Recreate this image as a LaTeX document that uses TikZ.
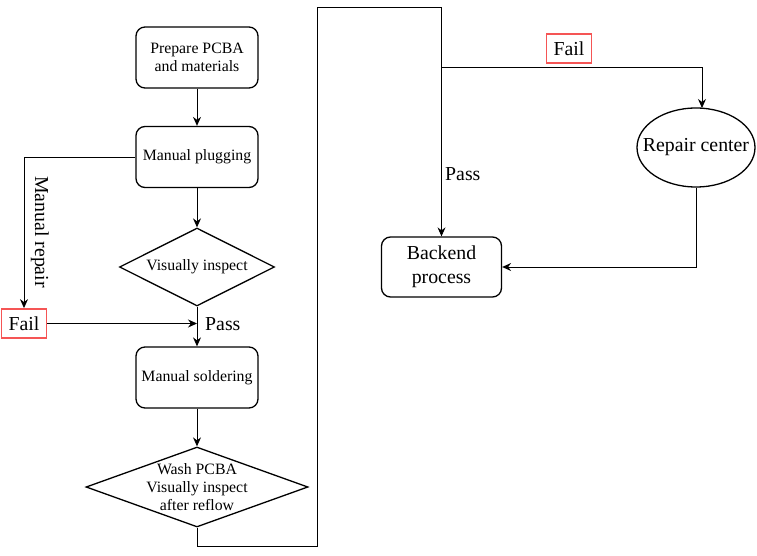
\documentclass[tikz,border=0pt]{standalone}
\usepackage{fontspec}
\setmainfont{Liberation Serif}
\usetikzlibrary{shapes.geometric,arrows.meta}
\definecolor{failred}{RGB}{245,85,85}
\tikzset{
  box/.style={draw, line width=1.3pt, rounded corners=9pt, minimum width=122pt, minimum height=61pt, inner sep=0pt, align=center, font=\fontsize{15.8}{17.5}\selectfont},
  bigbox/.style={box, minimum width=120pt, minimum height=60pt, font=\fontsize{19.8}{24}\selectfont},
  dia/.style={draw, line width=1.3pt, diamond, inner sep=0pt},
  smalltxt/.style={font=\fontsize{15.8}{18}\selectfont, align=center},
  bigtxt/.style={font=\fontsize{19.8}{22}\selectfont, inner sep=0pt},
  failbox/.style={draw=failred, line width=1.8pt, minimum width=45pt, minimum height=29pt, inner sep=0pt, font=\fontsize{19.8}{22}\selectfont},
  arr/.style={line width=0.9pt, -{Stealth[length=9pt,width=8pt,inset=3pt]}},
  ln/.style={line width=0.9pt}
}
\begin{document}
\begin{tikzpicture}[x=1pt,y=-1pt]
\useasboundingbox (0,0) rectangle (757,556);
% nodes
\node[box] (prep) at (197,57.5) {Prepare PCBA\\and materials};
\node[box] (plug) at (197,157) {Manual plugging};
\node[dia, minimum width=155pt, minimum height=78pt, label={[smalltxt]center:Visually inspect}] (vis) at (197,267) {};
\node[box] (sold) at (197,377.5) {Manual soldering};
\node[dia, minimum width=222pt, minimum height=80pt, label={[smalltxt]center:Wash PCBA\\Visually inspect\\after reflow}] (wash) at (197,487) {};
\node[failbox] (fail1) at (24,323.5) {Fail};
\node[bigtxt, rotate=-90] (mrep) at (40,232) {Manual repair};
\node[bigtxt, anchor=west] (pass1) at (205,324) {Pass};
\node[bigbox] (back) at (441.5,267) {Backend\\process};
\node[draw, ellipse, line width=1.3pt, minimum width=118pt, minimum height=79pt, inner sep=0pt, label={[bigtxt]center:Repair center}] (rep) at (696,147.5) {};
\node[failbox] (fail2) at (569,48.5) {Fail};
\node[bigtxt, anchor=west] (pass2) at (445,174) {Pass};
% coordinates
\coordinate (j1) at (197,323.5);
\coordinate (c1) at (197,546);
\coordinate (c2) at (317,546);
\coordinate (c3) at (317,7.5);
\coordinate (c4) at (441.5,7.5);
\coordinate (j2) at (441.5,67.5);
\coordinate (rtop) at (702,108);
% connectors
\draw[arr] (prep) -- (plug);
\draw[arr] (plug) -- (vis);
\draw[arr] (vis.south) -- (sold.north);
\draw[arr] (plug.west) -| (fail1.north);
\draw[arr] (fail1.east) -- (j1);
\draw[arr] (sold) -- (wash);
\draw[arr] (wash.south) -- (c1) -- (c2) -- (c3) -- (c4) -- (back.north);
\draw[arr] (j2) -| (rtop);
\draw[arr] (rep.south) |- (back.east);
\end{tikzpicture}
\end{document}
